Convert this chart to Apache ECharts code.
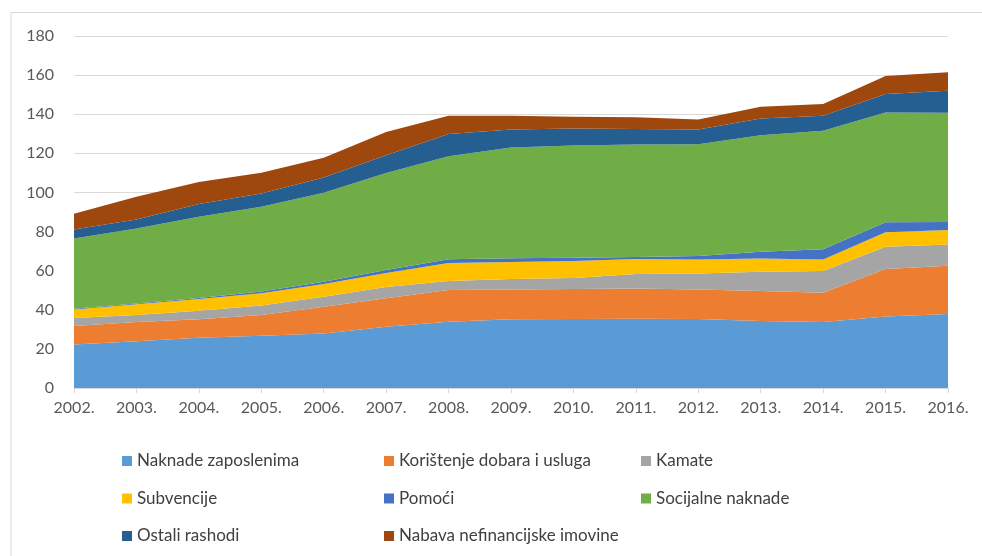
<!DOCTYPE html>
<html>
<head>
<meta charset="utf-8">
<script src="https://cdn.jsdelivr.net/npm/echarts@6/dist/echarts.min.js"></script>
<style>
  html, body { margin: 0; padding: 0; background: #fff; }
  #chart { width: 982px; height: 556px; }
</style>
</head>
<body>
<div id="chart"></div>
<script>
const years = ['2002.', '2003.', '2004.', '2005.', '2006.', '2007.', '2008.', '2009.',
               '2010.', '2011.', '2012.', '2013.', '2014.', '2015.', '2016.'];
const yTicks = { min: 0, max: 180, step: 20 };

const naknadeZaposlenima = [22.3, 23.9, 25.7, 26.7, 27.9, 31.3, 33.9, 35.1, 35.3, 35.4, 35.3, 34.3, 33.7, 36.5, 37.8];
const koristenjeDobara   = [9.4, 9.8, 9.4, 10.6, 13.7, 14.6, 16.2, 15.3, 15.3, 15.5, 15.1, 15.3, 15.0, 24.3, 24.7];
const kamate             = [4.1, 3.6, 4.4, 4.9, 5.1, 5.7, 4.6, 5.3, 5.6, 7.4, 8.2, 9.9, 11.1, 11.4, 10.9];
const subvencije         = [4.4, 5.5, 6.0, 6.2, 6.5, 7.2, 9.2, 8.7, 8.7, 7.7, 7.1, 6.7, 5.9, 7.4, 7.4];
const pomoci             = [0.3, 0.4, 0.5, 0.9, 1.1, 1.5, 2.0, 2.0, 1.7, 1.0, 1.8, 3.5, 5.2, 5.1, 4.1];
const socijalneNaknade   = [36.0, 38.4, 41.6, 43.4, 45.5, 49.7, 52.6, 56.6, 57.4, 57.5, 57.1, 59.6, 60.6, 56.2, 55.8];
const ostaliRashodi      = [4.6, 4.6, 6.5, 6.8, 7.9, 9.0, 11.4, 9.2, 8.7, 7.9, 7.6, 8.5, 7.7, 9.4, 11.3];
const nabavaImovine      = [8.0, 11.6, 11.2, 10.6, 10.0, 11.9, 9.3, 7.0, 6.0, 6.1, 5.1, 6.0, 6.0, 9.2, 9.5];

const seriesDefs = [
  { name: 'Naknade zaposlenima', data: naknadeZaposlenima, color: '#5B9BD5' },
  { name: 'Korištenje dobara i usluga', data: koristenjeDobara, color: '#ED7D31' },
  { name: 'Kamate', data: kamate, color: '#A5A5A5' },
  { name: 'Subvencije', data: subvencije, color: '#FFC000' },
  { name: 'Pomoći', data: pomoci, color: '#4472C4' },
  { name: 'Socijalne naknade', data: socijalneNaknade, color: '#70AD47' },
  { name: 'Ostali rashodi', data: ostaliRashodi, color: '#255E91' },
  { name: 'Nabava nefinancijske imovine', data: nabavaImovine, color: '#9E480E' }
];

const FONT = 'Lato, "Open Sans", sans-serif';

const legendCol = (left, names) => ({
  left: left,
  top: 446,
  orient: 'vertical',
  itemWidth: 10,
  itemHeight: 10,
  itemGap: 17.5,
  icon: 'rect',
  data: names,
  textStyle: { fontFamily: FONT, fontSize: 17, color: '#404040', lineHeight: 20 }
});

const chart = echarts.init(document.getElementById('chart'), null, { renderer: 'canvas' });

const option = {
  animation: false,
  backgroundColor: '#fff',
  color: seriesDefs.map(s => s.color),
  graphic: [{
    type: 'polyline',
    silent: true,
    shape: { points: [[11, 556], [11, 12.5], [982, 12.5]] },
    style: { stroke: '#d9d9d9', lineWidth: 1, fill: null }
  }],
  grid: { left: 74, right: 34, top: 36, bottom: 168, containLabel: false },
  legend: [
    legendCol(117, ['Naknade zaposlenima', 'Subvencije', 'Ostali rashodi']),
    legendCol(379, ['Korištenje dobara i usluga', 'Pomoći', 'Nabava nefinancijske imovine']),
    legendCol(636, ['Kamate', 'Socijalne naknade'])
  ],
  xAxis: {
    type: 'category',
    data: years,
    boundaryGap: false,
    axisLine: { lineStyle: { color: '#d9d9d9', width: 1 } },
    axisTick: { show: true, length: 5, lineStyle: { color: '#d9d9d9' } },
    axisLabel: { fontFamily: FONT, fontSize: 16, color: '#595959', margin: 12 },
    splitLine: { show: false }
  },
  yAxis: {
    type: 'value',
    min: yTicks.min,
    max: yTicks.max,
    interval: yTicks.step,
    axisLine: { show: false },
    axisTick: { show: false },
    axisLabel: { fontFamily: FONT, fontSize: 16, color: '#595959', margin: 20 },
    splitLine: { lineStyle: { color: '#d9d9d9', width: 1 } }
  },
  series: seriesDefs.map(s => ({
    name: s.name,
    type: 'line',
    stack: 'total',
    data: s.data,
    symbol: 'none',
    lineStyle: { width: 0 },
    areaStyle: { color: s.color, opacity: 1 },
    itemStyle: { color: s.color }
  }))
};

chart.setOption(option);
</script>
</body>
</html>
